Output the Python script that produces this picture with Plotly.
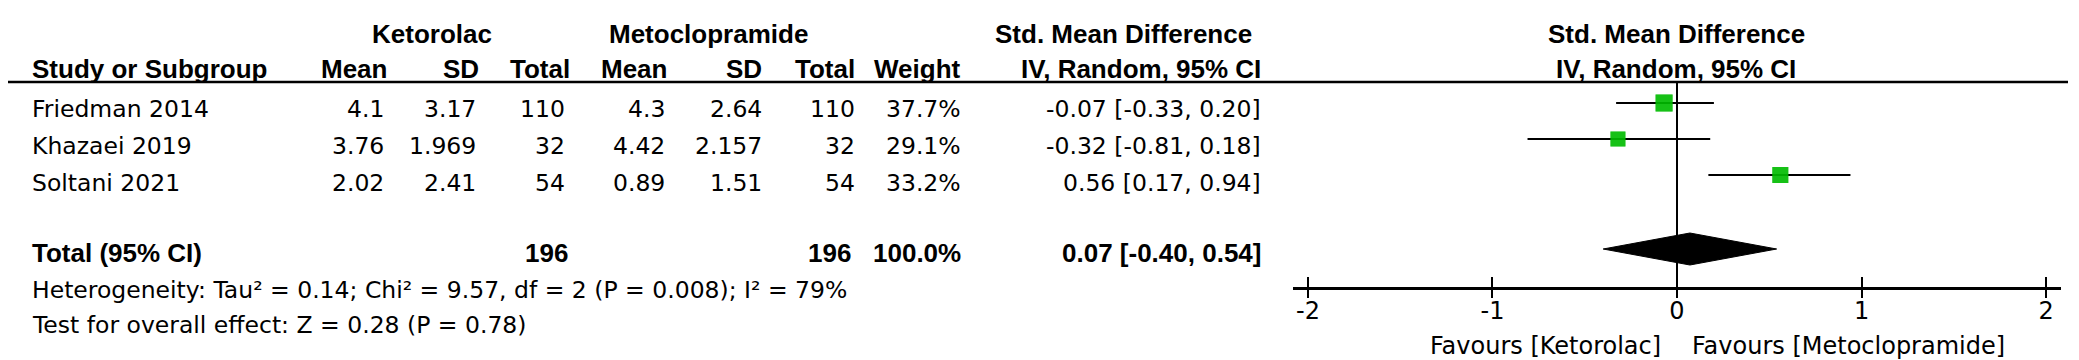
import plotly.graph_objects as go

# ---------------- data ----------------
studies = ["Friedman 2014", "Khazaei 2019", "Soltani 2021"]
k_mean = [4.1, 3.76, 2.02]
k_sd = [3.17, 1.969, 2.41]
k_n = [110, 32, 54]
m_mean = [4.3, 4.42, 0.89]
m_sd = [2.64, 2.157, 1.51]
m_n = [110, 32, 54]
weights = [37.7, 29.1, 33.2]
smd = [-0.07, -0.32, 0.56]
ci_lo = [-0.33, -0.81, 0.17]
ci_hi = [0.20, 0.18, 0.94]

total_label = "Total (95% CI)"
total_k_n = 196
total_m_n = 196
total_weight = 100.0
total_smd = 0.07
total_lo = -0.40
total_hi = 0.54

het_text = "Heterogeneity: Tau² = 0.14; Chi² = 9.57, df = 2 (P = 0.008); I² = 79%"
overall_text = "Test for overall effect: Z = 0.28 (P = 0.78)"
fav_left = "Favours [Ketorolac]"
fav_right = "Favours [Metoclopramide]"
tick_vals = [-2, -1, 0, 1, 2]
tick_text = ["-2", "-1", "0", "1", "2"]
group_headers = ["Ketorolac", "Metoclopramide", "Std. Mean Difference"]
col_headers = ["Study or Subgroup", "Mean", "SD", "Total", "Mean", "SD", "Total",
               "Weight", "IV, Random, 95% CI"]

# ---------------- layout constants (pixels) ----------------
W, H = 2079, 360
REG = dict(family="DejaVu Sans", size=23.5, color="black")
BOLD = dict(family="Liberation Sans", size=26, color="black", weight="bold")

plot_left, plot_right = 1285, 2053
plot_top, axis_y = 74, 279
row_text_y = [101, 138, 175]
row_mark_y = [95, 131, 167]
total_text_y, total_mark_y = 245, 241
het_y, overall_y = 282, 317
hdr1_y, hdr2_y = 26, 61
fav_y = 338

# right edges of table columns
c_study = 22
c_val = [378, 470, 559, 659, 756, 849, 955, 1255]
c_hdr = [381, 473, 564, 661, 756, 849, 955, 1255]


def px(x):
    return x / W


def py(y):
    return 1 - y / H


annotations = []


def add_text(x, y, text, font, anchor="right"):
    annotations.append(dict(x=px(x), y=py(y), xref="paper", yref="paper", text=text,
                            showarrow=False, xanchor=anchor, yanchor="middle", font=font))


# group headers
add_text(424, hdr1_y, group_headers[0], BOLD, "center")
add_text(700, hdr1_y, group_headers[1], BOLD, "center")
add_text(1246, hdr1_y, group_headers[2], BOLD, "right")
add_text(1668, hdr1_y, group_headers[2], BOLD, "center")
# column headers
add_text(c_study, hdr2_y, col_headers[0], BOLD, "left")
for xr, t in zip(c_hdr, col_headers[1:]):
    add_text(xr, hdr2_y, t, BOLD, "right")
add_text(1668, hdr2_y, col_headers[-1], BOLD, "center")

# study rows
for i, s in enumerate(studies):
    y = row_text_y[i]
    vals = [str(k_mean[i]), str(k_sd[i]), str(k_n[i]), str(m_mean[i]), str(m_sd[i]),
            str(m_n[i]), f"{weights[i]:.1f}%",
            f"{smd[i]:.2f} [{ci_lo[i]:.2f}, {ci_hi[i]:.2f}]"]
    add_text(c_study, y, s, REG, "left")
    for xr, v in zip(c_val, vals):
        add_text(xr, y, v, REG, "right")

# total row
add_text(c_study, total_text_y, total_label, BOLD, "left")
add_text(c_hdr[2] - 2, total_text_y, str(total_k_n), BOLD, "right")
add_text(c_val[5] - 4, total_text_y, str(total_m_n), BOLD, "right")
add_text(c_val[6], total_text_y, f"{total_weight:.1f}%", BOLD, "right")
add_text(c_val[7], total_text_y, f"{total_smd:.2f} [{total_lo:.2f}, {total_hi:.2f}]", BOLD, "right")

add_text(c_study, het_y, het_text, REG, "left")
add_text(c_study, overall_y, overall_text, REG, "left")

add_text(1655, fav_y, fav_left, dict(REG, size=24), "right")
add_text(1682, fav_y, fav_right, dict(REG, size=24), "left")

fig = go.Figure()

sq_sizes = [2.77 * w ** 0.5 for w in weights]
# CI lines (error bars) with squares
fig.add_trace(go.Scatter(
    x=smd, y=row_mark_y, mode="markers",
    marker=dict(symbol="square", color="#00BB00", size=sq_sizes, line=dict(width=0)),
    error_x=dict(type="data", symmetric=False,
                 array=[h - m for h, m in zip(ci_hi, smd)],
                 arrayminus=[m - l for m, l in zip(smd, ci_lo)],
                 color="black", thickness=2.2, width=0),
    showlegend=False, hoverinfo="skip"))
# squares drawn again on top of the error bars
fig.add_trace(go.Scatter(
    x=smd, y=row_mark_y, mode="markers",
    marker=dict(symbol="square", color="#00BB00", size=sq_sizes, line=dict(width=0)),
    showlegend=False, hoverinfo="skip"))

# pooled diamond
dh = 16
fig.add_trace(go.Scatter(
    x=[total_lo, total_smd, total_hi, total_smd, total_lo],
    y=[total_mark_y, total_mark_y - dh, total_mark_y, total_mark_y + dh, total_mark_y],
    mode="lines", fill="toself", fillcolor="black", line=dict(color="black", width=1),
    showlegend=False, hoverinfo="skip"))

xr0 = -2.081
xr1 = 2.081
fig.update_layout(
    width=W, height=H, margin=dict(l=0, r=0, t=0, b=0),
    paper_bgcolor="white", plot_bgcolor="rgba(0,0,0,0)",
    xaxis=dict(domain=[px(plot_left), px(plot_right)], range=[xr0, xr1],
               showgrid=False, zeroline=True, zerolinecolor="black", zerolinewidth=2,
               showline=True, linecolor="black", linewidth=2.5,
               ticks="inside", ticklen=10, tickwidth=2, tickcolor="black",
               tickvals=tick_vals, ticktext=tick_text, tickfont=dict(REG, size=24),
               ticklabelstandoff=0, fixedrange=True),
    xaxis2=dict(overlaying="x", anchor="y", range=[xr0, xr1], side="bottom",
                showgrid=False, zeroline=False, showline=False,
                ticks="outside", ticklen=10, tickwidth=2, tickcolor="black",
                tickvals=tick_vals, showticklabels=False, fixedrange=True),
    yaxis=dict(domain=[py(axis_y), py(plot_top)], range=[axis_y, plot_top],
               visible=False, fixedrange=True),
    annotations=annotations,
    shapes=[dict(type="line", xref="paper", yref="paper", x0=0, x1=px(2060),
                 y0=py(plot_top), y1=py(plot_top), line=dict(color="black", width=2.5))],
)
# invisible trace that activates the overlay axis carrying the outer tick halves
fig.add_trace(go.Scatter(x=[xr0, xr1], y=[None, None], xaxis="x2", yaxis="y",
                         mode="markers", showlegend=False, hoverinfo="skip"))

fig.write_html("out.html")
